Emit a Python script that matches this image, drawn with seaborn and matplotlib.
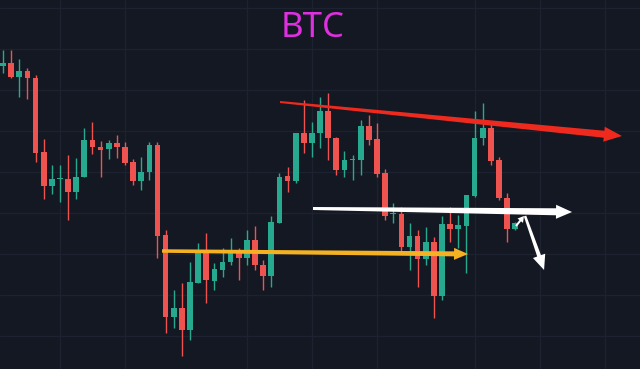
import numpy as np
import pandas as pd
import matplotlib
matplotlib.use("Agg")
import matplotlib.pyplot as plt
import seaborn as sns

# ---- data (price units) ----
opens = [303, 306, 292, 298, 291, 217, 183, 190, 190, 177, 192, 229, 222, 220, 226, 222,
         207, 188, 197, 224, 134, 52, 61, 39, 86, 116, 88, 99, 107, 116, 111, 129,
         104, 93, 146, 193, 188, 236, 226, 236, 258, 231, 199, 209, 209, 243, 230, 196,
         155, 155, 122, 133, 110, 127, 73, 145, 140, 143, 173, 231, 241, 209, 171, 140]
highs = [319, 319, 310, 301, 294, 230, 204, 204, 214, 211, 241, 247, 228, 229, 234, 227,
         210, 212, 227, 227, 139, 79, 86, 107, 126, 136, 106, 121, 131, 121, 139, 143,
         109, 153, 196, 202, 236, 269, 247, 272, 276, 232, 218, 214, 249, 254, 246, 200,
         166, 162, 146, 139, 142, 132, 153, 162, 154, 174, 258, 266, 247, 212, 176, 147]
lows = [296, 291, 272, 270, 207, 170, 175, 167, 149, 170, 192, 215, 192, 210, 211, 204,
        184, 179, 189, 111, 36, 41, 13, 29, 86, 66, 79, 92, 104, 89, 104, 99,
        79, 82, 146, 177, 186, 216, 212, 221, 209, 194, 192, 189, 194, 224, 192, 149,
        146, 116, 99, 82, 104, 51, 69, 127, 121, 96, 172, 224, 204, 169, 127, 139]
closes = [306, 292, 298, 291, 216, 183, 190, 190.5, 177, 192, 229, 222, 219, 226, 222, 206,
          188, 197, 224, 133, 52, 61, 39, 87, 116, 89, 100, 107, 116, 111, 129, 104,
          93, 147, 192, 188, 236, 226, 236, 258, 231, 199, 209, 209.5, 243, 229, 195, 153,
          155.5, 122, 133, 110, 127, 73, 145, 140, 144, 174, 231, 241, 208, 171, 140, 146]

title_text = "BTC"

# annotation arrows: (x0, y0, x1, y1) in (candle index, price)
red_trend = (34.07, 267, 76.13, 233)
white_level = (38.13, 160.5, 69.99, 157)
yellow_level = (19.56, 118, 57.20, 115)
white_drop = (64.21, 153, 66.55, 99)
white_hook = (63.10, 143, 64.08, 153)

grid_x = [7, 15, 30, 38, 46, 58, 66, 74]
grid_y = [361, 320, 279, 238, 197, 156, 115, 74, 33]

BG = "#141823"
GRID = "#1d2230"
UP = "#26a98e"
DOWN = "#ef5350"

sns.set_theme(style="dark", rc={"axes.facecolor": BG, "figure.facecolor": BG,
                                "grid.color": GRID, "axes.grid": True})

df = pd.DataFrame({"open": opens, "high": highs, "low": lows, "close": closes})
df["idx"] = np.arange(len(df))
df["up"] = df["close"] >= df["open"]
df["bottom"] = df[["open", "close"]].min(axis=1)
df["body"] = (df["close"] - df["open"]).abs().clip(lower=1.3)
colors = np.where(df["up"], UP, DOWN)

fig = plt.figure(figsize=(6.4, 3.69), dpi=100)
ax = fig.add_axes([0, 0, 1, 1])
ax.set_xlim(-0.37, 78.35)
ax.set_ylim(0, 369)

ax.set_xticks(grid_x)
ax.set_yticks(grid_y)
ax.tick_params(labelbottom=False, labelleft=False, length=0)
ax.grid(True, color=GRID, linewidth=0.9)
for s in ax.spines.values():
    s.set_visible(False)

ax.vlines(df["idx"], df["low"], df["high"], colors=colors, linewidth=1.0, zorder=2)
ax.bar(df["idx"], df["body"], bottom=df["bottom"], width=0.7, color=colors,
       linewidth=0, zorder=3)


def tapered_arrow(seg, w0, w1, head_len, head_w, color, z=5):
    x0, y0, x1, y1 = seg
    T = ax.transData
    p0 = T.transform((x0, y0))
    p1 = T.transform((x1, y1))
    d = p1 - p0
    u = d / np.hypot(*d)
    n = np.array([-u[1], u[0]])
    s = p1 - u * head_len
    pts = [p0 + n * w0 / 2, s + n * w1 / 2, s + n * head_w / 2, p1,
           s - n * head_w / 2, s - n * w1 / 2, p0 - n * w0 / 2]
    data = T.inverted().transform(np.array(pts))
    ax.fill(data[:, 0], data[:, 1], color=color, linewidth=0, zorder=z)


tapered_arrow(red_trend, 2, 7, 18, 15, "#ee2a1f")
tapered_arrow(yellow_level, 3.5, 5, 14, 12, "#f4b223")
tapered_arrow(white_level, 3, 7, 16, 14, "#ffffff")
tapered_arrow(white_drop, 2.5, 4, 15, 13, "#ffffff")
tapered_arrow(white_hook, 2, 2, 6, 7, "#ffffff")

fig.text(313 / 640, 1 - 28 / 369, title_text, ha="center", va="center",
         fontsize=25, color="#df2fe0", family=["Noto Sans", "DejaVu Sans"])

fig.savefig("out.png", dpi=100, facecolor=BG)
